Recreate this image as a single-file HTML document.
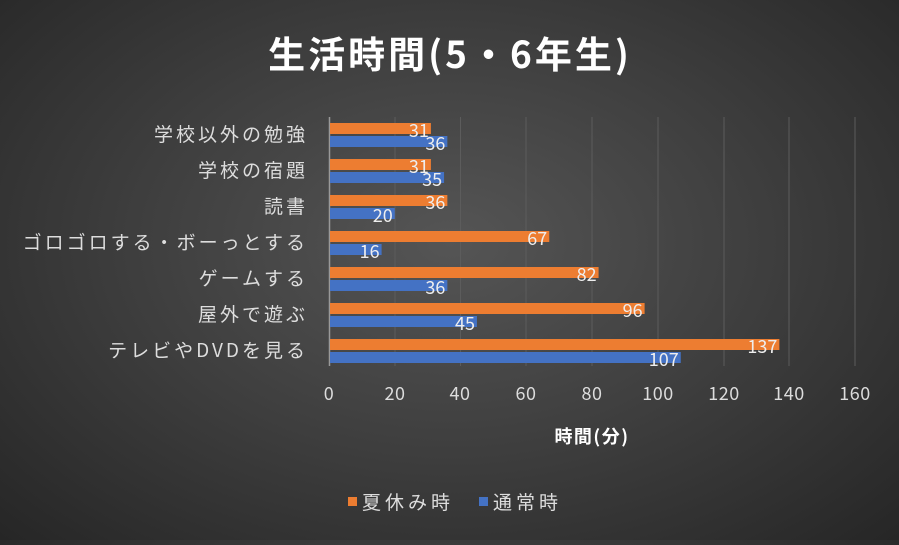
<!DOCTYPE html><html><head><meta charset="utf-8"><style>
body{margin:0;width:899px;height:540px;overflow:hidden;background:radial-gradient(ellipse at 50% 45%,#555 0%,#3e3e3e 50%,#262626 100%);}
</style></head><body>
<svg width="899" height="540" xmlns="http://www.w3.org/2000/svg" font-family="Noto Sans CJK JP, sans-serif">
<text x="450" y="68" fill="#fff" font-size="37" font-weight="bold" text-anchor="middle" letter-spacing="3">生活時間(5・6年生)</text>
<g stroke="#5c5c5c" stroke-width="1">
<line x1="395" y1="117" x2="395" y2="366"/><line x1="460.5" y1="117" x2="460.5" y2="366"/><line x1="526" y1="117" x2="526" y2="366"/><line x1="592" y1="117" x2="592" y2="366"/><line x1="658" y1="117" x2="658" y2="366"/><line x1="724" y1="117" x2="724" y2="366"/><line x1="789" y1="117" x2="789" y2="366"/><line x1="855" y1="117" x2="855" y2="366"/>
</g>
<line x1="329.5" y1="117" x2="329.5" y2="366" stroke="#999" stroke-width="1.5"/>
<g id="bars"></g>
<g fill="#ddd" font-size="18" text-anchor="middle" letter-spacing="0.5">
<text x="329" y="400">0</text><text x="395" y="400">20</text><text x="460" y="400">40</text><text x="526" y="400">60</text><text x="592" y="400">80</text><text x="658" y="400">100</text><text x="724" y="400">120</text><text x="789" y="400">140</text><text x="855" y="400">160</text>
</g>
<text x="592" y="443" fill="#fff" font-size="18" font-weight="bold" text-anchor="middle" letter-spacing="1.5">時間(分)</text>
<g fill="#ddd" font-size="19" text-anchor="end" letter-spacing="3">
<text x="308" y="141">学校以外の勉強</text><text x="308" y="177">学校の宿題</text><text x="308" y="213">読書</text><text x="308" y="249">ゴロゴロする・ボーっとする</text><text x="308" y="285">ゲームする</text><text x="308" y="321">屋外で遊ぶ</text><text x="308" y="357">テレビやDVDを見る</text>
</g>
<rect x="348" y="497" width="9" height="9" fill="#ed7d31"/><text x="362" y="509" fill="#ddd" font-size="19" letter-spacing="4">夏休み時</text>
<rect x="479" y="497" width="9" height="9" fill="#4472c4"/><text x="493" y="509" fill="#ddd" font-size="19" letter-spacing="4">通常時</text>
</svg>
<script>
var d=[[31,36],[31,35],[36,20],[67,16],[82,36],[96,45],[137,107]];
var g=document.getElementById('bars'),s='',k=3.2875;
d.forEach(function(v,i){var y=123+i*36;
var w1=v[0]*k,w2=v[1]*k;
s+='<rect x="330" y="'+y+'" width="'+(w1-1)+'" height="11" fill="#ed7d31"/>';
s+='<rect x="330" y="'+(y+13)+'" width="'+(w2-1)+'" height="11" fill="#4472c4"/>';
s+='<text x="'+(329+w1-2)+'" y="'+(y+14)+'" fill="#eee" font-size="18" text-anchor="end">'+v[0]+'</text>';
s+='<text x="'+(329+w2-2)+'" y="'+(y+27)+'" fill="#eee" font-size="18" text-anchor="end">'+v[1]+'</text>';});
g.innerHTML=s;
</script>
</body></html>
